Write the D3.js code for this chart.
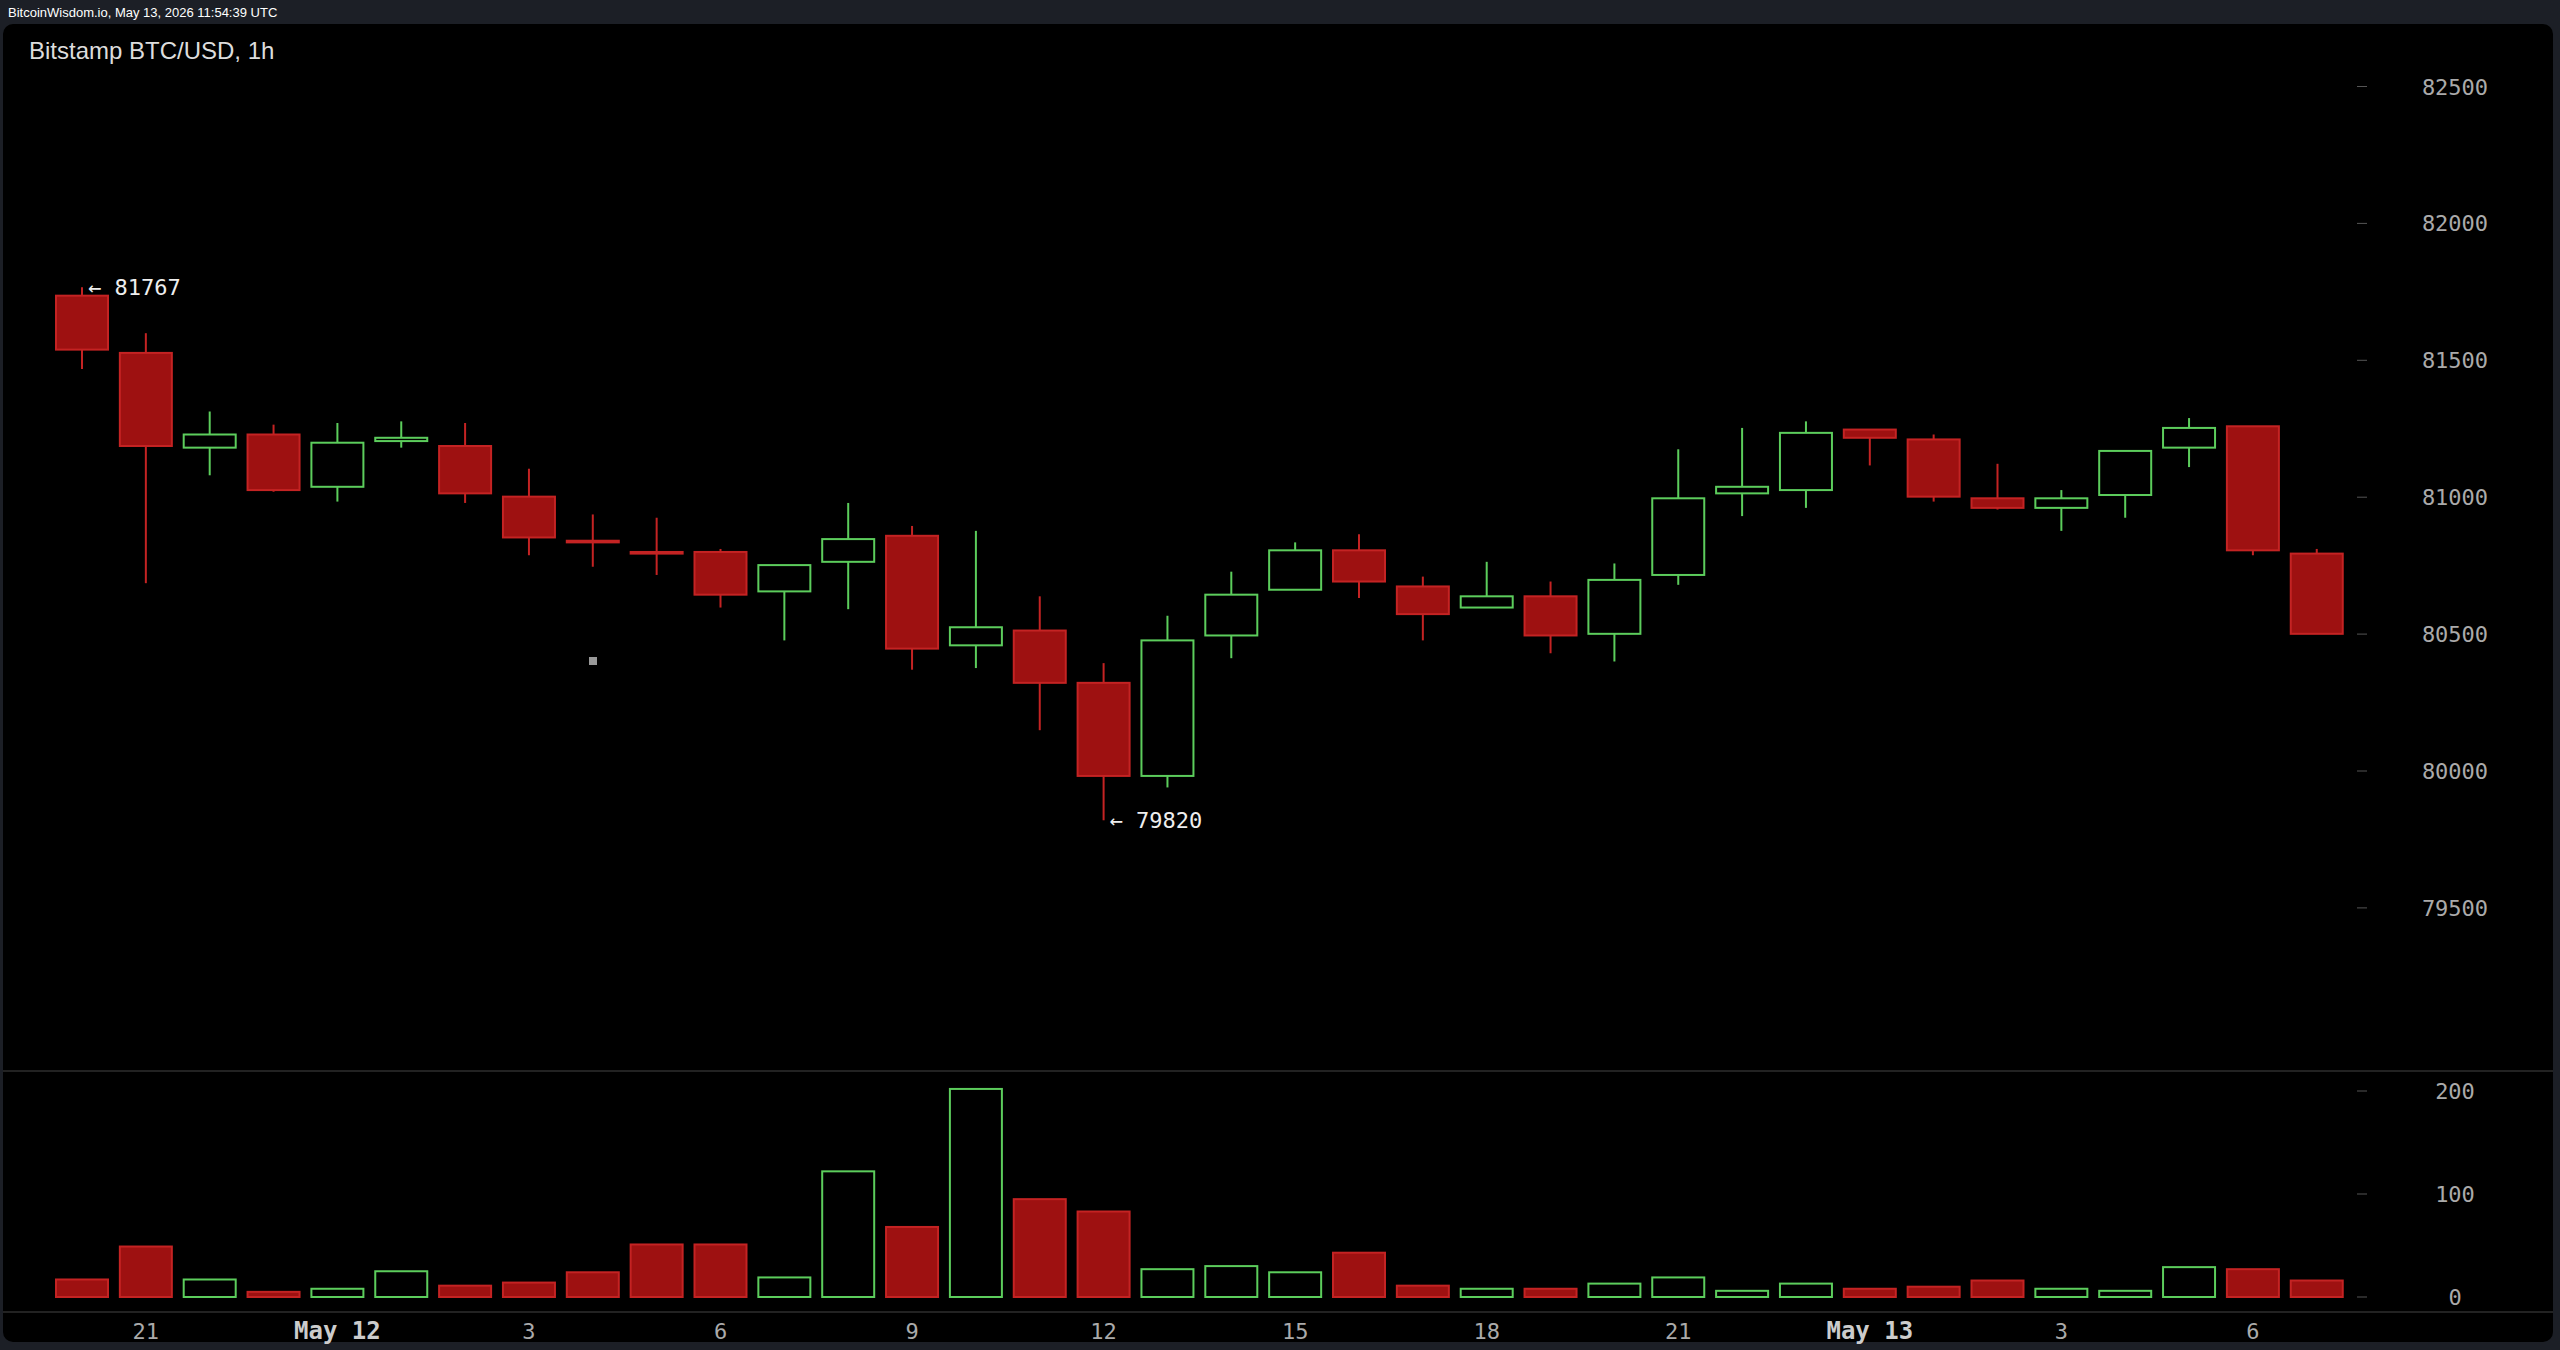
<!DOCTYPE html>
<html><head><meta charset="utf-8">
<script src="https://cdn.jsdelivr.net/npm/d3@7"></script>
<style>body{margin:0;background:#1c1f26;overflow:hidden}svg{display:block}</style>
</head><body><svg id="c" width="2560" height="1350"></svg>
<script>
const opens  =[81736,81527,81181,81229,81038,81205,81187,81002,80841,80800,80800,80656,80764,80859,80459,80513,80322,79982,80495,80662,80806,80674,80597,80638,80501,80716,81014,81026,81247,81211,80996,80961,81008,81181,81259,80794];
const closes =[81539,81187,81229,81026,81199,81217,81014,80853,80835,80794,80644,80752,80847,80447,80525,80322,79982,80477,80644,80806,80692,80573,80638,80495,80698,80996,81038,81235,81217,81002,80961,80996,81169,81253,80806,80501];
const highs  =[81767,81599,81313,81265,81271,81277,81271,81104,80937,80925,80811,80752,80979,80895,80877,80638,80394,80567,80728,80835,80865,80710,80764,80692,80758,81175,81253,81277,81247,81229,81122,81026,81169,81289,81259,80811];
const lows   =[81468,80686,81080,81020,80984,81181,80979,80788,80746,80716,80597,80477,80591,80370,80376,80149,79820,79940,80412,80662,80632,80477,80597,80430,80400,80680,80931,80961,81116,80984,80955,80877,80925,81110,80788,80501];
const volumes=[17,49,17,5,8,25,11,14,24,51,51,19,122,68,202,95,83,27,30,24,43,11,8,8,13,19,6,13,8,10,16,8,6,29,27,16];
const priceTicks=[79500,80000,80500,81000,81500,82000,82500];
const volTicks=[0,100,200];
const xTickIdx=[1,4,7,10,13,16,19,22,25,28,31,34];
const xTickLabels=["21","May 12","3","6","9","12","15","18","21","May 13","3","6"];

const svg=d3.select("#c");
const W=2560,H=1350;
svg.append("rect").attr("width",W).attr("height",H).attr("fill","#1c1f26");
svg.append("rect").attr("x",3).attr("y",24).attr("width",2550).attr("height",1318).attr("rx",10).attr("fill","#000");
svg.append("text").attr("x",8).attr("y",17).attr("fill","#fff").attr("font-family","Liberation Sans, Arial").attr("font-size",13).text("BitcoinWisdom.io, May 13, 2026 11:54:39 UTC");
svg.append("text").attr("x",29).attr("y",59).attr("fill","#ddd").attr("font-family","Liberation Sans, Arial").attr("font-size",24).text("Bitstamp BTC/USD, 1h");

const x=d3.scaleLinear().domain([0,1]).range([82,145.85]);
const y=d3.scaleLinear().domain([80000,82500]).range([771,86.5]);
const yv=d3.scaleLinear().domain([0,200]).range([1297,1091]);
const bw=52;
const red="#9e1111",redS="#c42323",green="#5ccd5c";
const mono="DejaVu Sans Mono, monospace";

// divider
svg.append("line").attr("x1",3).attr("x2",2553).attr("y1",1071).attr("y2",1071).attr("stroke","#444");
svg.append("line").attr("x1",3).attr("x2",2553).attr("y1",1312).attr("y2",1312).attr("stroke","#444");

// price axis
const pa=svg.append("g");
priceTicks.forEach(t=>{
  pa.append("line").attr("x1",2357).attr("x2",2367).attr("y1",y(t)).attr("y2",y(t)).attr("stroke","#555");
  pa.append("text").attr("x",2455).attr("y",y(t)+8).attr("text-anchor","middle").attr("fill","#aaa").attr("font-family",mono).attr("font-size",22).text(t);
});
volTicks.forEach(t=>{
  pa.append("line").attr("x1",2357).attr("x2",2367).attr("y1",yv(t)).attr("y2",yv(t)).attr("stroke","#555");
  pa.append("text").attr("x",2455).attr("y",yv(t)+8).attr("text-anchor","middle").attr("fill","#aaa").attr("font-family",mono).attr("font-size",22).text(t);
});
xTickIdx.forEach((i,k)=>{
  const big=xTickLabels[k].startsWith("May");
  svg.append("text").attr("x",x(i)).attr("y",1339).attr("text-anchor","middle").attr("fill",big?"#ccc":"#aaa").attr("font-family",mono).attr("font-size",big?24:22).attr("font-weight",big?"bold":"normal").text(xTickLabels[k]);
});

// candles
const g=svg.append("g");
opens.forEach((o,i)=>{
  const c=closes[i],up=c>o,cx=x(i);
  const col=up?green:redS;
  g.append("line").attr("x1",cx).attr("x2",cx).attr("y1",y(highs[i])).attr("y2",y(lows[i])).attr("stroke",col).attr("stroke-width",2);
  const top=y(Math.max(o,c)),bot=y(Math.min(o,c));
  g.append("rect").attr("x",cx-bw/2).attr("y",top).attr("width",bw).attr("height",Math.max(bot-top,1.5))
    .attr("fill",up?"#000":red).attr("stroke",col).attr("stroke-width",2);
  const v=volumes[i];
  g.append("rect").attr("x",cx-bw/2).attr("y",yv(v)).attr("width",bw).attr("height",yv(0)-yv(v))
    .attr("fill",up?"#000":red).attr("stroke",up?green:redS).attr("stroke-width",2);
});
// annotations
const hiI=highs.indexOf(d3.max(highs)),loI=lows.indexOf(d3.min(lows));
svg.append("text").attr("x",x(hiI)+6).attr("y",y(highs[hiI])+8).attr("fill","#eee").attr("font-family",mono).attr("font-size",22).text("← "+highs[hiI]);
svg.append("text").attr("x",x(loI)+6).attr("y",y(lows[loI])+8).attr("fill","#eee").attr("font-family",mono).attr("font-size",22).text("← "+lows[loI]);
svg.append("rect").attr("x",589).attr("y",657).attr("width",8).attr("height",8).attr("fill","#999");
</script></body></html>
